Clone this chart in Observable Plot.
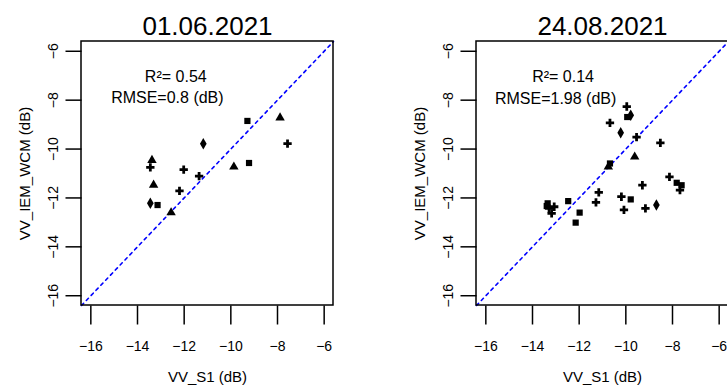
<!DOCTYPE html>
<html>
<head>
<meta charset="utf-8">
<script src="https://cdn.jsdelivr.net/npm/d3@7"></script>
<script src="https://cdn.jsdelivr.net/npm/@observablehq/plot@0.6"></script>
<style>
  html, body { margin: 0; padding: 0; background: #fff; }
  .panel { position: absolute; top: 0; width: 395px; height: 387px; }
  #p1 { left: 0; }
  #p2 { left: 395px; }
</style>
</head>
<body>
<div id="p1" class="panel"></div>
<div id="p2" class="panel"></div>
<script>
// ---- data ----
const titles = ["01.06.2021", "24.08.2021"];
const xLabel = "VV_S1 (dB)";
const yLabel = "VV_IEM_WCM (dB)";
const tickValues = [-16, -14, -12, -10, -8, -6];
const axisLimits = [-16, -6];

// panel 1 (01.06.2021)
const s1_x1 = [-9.29, -7.89, -7.57, -11.18, -9.22, -9.87, -12.02, -11.36, -13.38, -13.45, -13.31, -12.20, -13.45, -13.14, -12.56];
const wcm_y1 = [-8.85, -8.72, -9.78, -9.78, -10.57, -10.73, -10.84, -11.11, -10.46, -10.75, -11.47, -11.71, -12.22, -12.29, -12.60];
const sym1 = ["sq", "tr", "cr", "di", "sq", "tr", "cr", "cr", "tr", "cr", "tr", "cr", "di", "sq", "tr"];

// panel 2 (24.08.2021)
const s1_x2 = [-9.96, -9.94, -9.79, -10.68, -10.22, -9.54, -8.52, -9.62, -10.68, -10.75, -8.13, -7.82, -7.61, -7.68, -9.29, -11.16, -10.19, -9.79, -11.28, -12.47, -10.08, -9.16, -8.69, -11.98, -12.15, -13.35, -13.29, -13.18, -13.07, -13.39];
const wcm_y2 = [-8.26, -8.69, -8.62, -8.93, -9.33, -9.51, -9.75, -10.32, -10.59, -10.73, -11.14, -11.38, -11.48, -11.68, -11.48, -11.77, -11.95, -12.06, -12.18, -12.13, -12.49, -12.43, -12.29, -12.60, -13.01, -12.22, -12.43, -12.63, -12.36, -12.33];
const sym2 = ["cr", "sq", "di", "cr", "di", "cr", "cr", "tr", "sq", "tr", "cr", "sq", "sq", "cr", "cr", "cr", "cr", "sq", "cr", "sq", "cr", "cr", "di", "sq", "sq", "sq", "cr", "cr", "cr", "sq"];

// statistics annotations
const r2Text = ["R\u00B2= 0.54", "R\u00B2= 0.14"];
const rmseText = ["RMSE=0.8 (dB)", "RMSE=1.98 (dB)"];
const r2Pos = [[-12.36, -7.03], [-12.69, -7.05]];
const rmsePos = [[-12.72, -7.91], [-13.01, -7.95]];

// ---- drawing ----
const pad = (axisLimits[1] - axisLimits[0]) * 0.04;
const dom = [axisLimits[0] - pad, axisLimits[1] + pad];   // R-style 4% extended box
const fmt = v => String(v).replace("-", "\u2212");
const W = 395, H = 387;
const BOX_L = 81, BOX_R = 62, BOX_T = 41, BOX_B = 82;      // box margins (px)
const TICK_X = 19, TICK_Y = 16;                          // outward tick lengths (px)
const BW = W - BOX_L - BOX_R, BH = H - BOX_T - BOX_B;
const ux = (dom[1] - dom[0]) / BW, uy = (dom[1] - dom[0]) / BH;  // data units per px
// scale domains extended so the outward ticks fall inside Plot's frame area
const xDom = [dom[0] - TICK_Y * ux, dom[1]];
const yDom = [dom[0] - TICK_X * uy, dom[1]];

function panel(k, xs, ys, syms) {
  const pts = xs.map((x, i) => ({x, y: ys[i], s: syms[i]}));
  return Plot.plot({
    width: W,
    height: H,
    marginLeft: BOX_L - TICK_Y,
    marginRight: BOX_R,
    marginTop: BOX_T,
    marginBottom: BOX_B - TICK_X,
    style: {fontFamily: "'Liberation Sans', Arial, sans-serif", fontSize: "14px", color: "#000", background: "#fff"},
    x: {domain: xDom, label: null, axis: null},
    y: {domain: yDom, label: null, axis: null},
    symbol: {domain: ["sq", "cr", "tr", "di"], range: ["square", "cross", "triangle", "diamond"]},
    marks: [
      Plot.line(dom, {x: d => d, y: d => d, stroke: "#0000ff", strokeWidth: 1.6, strokeDasharray: "3,4"}),
      Plot.dot(pts, {x: "x", y: "y", symbol: "s", fill: "#000", stroke: "none", r: 3.5}),
      // plot box
      Plot.rect([dom], {x1: d => d[0], x2: d => d[1], y1: d => d[0], y2: d => d[1], fill: "none", stroke: "#000", strokeWidth: 1.5}),
      // outward ticks
      Plot.link(tickValues, {x1: d => d, x2: d => d, y1: () => dom[0], y2: () => yDom[0], stroke: "#000", strokeWidth: 1.5}),
      Plot.link(tickValues, {y1: d => d, y2: d => d, x1: () => dom[0], x2: () => xDom[0], stroke: "#000", strokeWidth: 1.5}),
      // tick labels
      Plot.text(tickValues, {x: d => d, text: fmt, frameAnchor: "bottom", lineAnchor: "middle", dy: 22, fontSize: 14}),
      Plot.text(tickValues, {y: d => d, text: fmt, frameAnchor: "left", textAnchor: "middle", lineAnchor: "middle", dx: -12, rotate: -90, fontSize: 14}),
      // axis titles
      Plot.text([yLabel], {text: d => d, x: () => xDom[0], y: () => (dom[0] + dom[1]) / 2, textAnchor: "middle", lineAnchor: "middle", dx: -40, rotate: -90, fontSize: 15}),
      Plot.text([xLabel], {text: d => d, x: () => (dom[0] + dom[1]) / 2, frameAnchor: "bottom", lineAnchor: "middle", dy: 53, fontSize: 15}),
      Plot.text([titles[k]], {text: d => d, x: () => (dom[0] + dom[1]) / 2, frameAnchor: "top", lineAnchor: "middle", dy: -15, fontSize: 26}),
      // statistics
      Plot.text([r2Text[k]], {x: () => r2Pos[k][0], y: () => r2Pos[k][1], text: d => d, fontSize: 16}),
      Plot.text([rmseText[k]], {x: () => rmsePos[k][0], y: () => rmsePos[k][1], text: d => d, fontSize: 16})
    ]
  });
}

document.getElementById("p1").append(panel(0, s1_x1, wcm_y1, sym1));
document.getElementById("p2").append(panel(1, s1_x2, wcm_y2, sym2));
</script>
</body>
</html>
